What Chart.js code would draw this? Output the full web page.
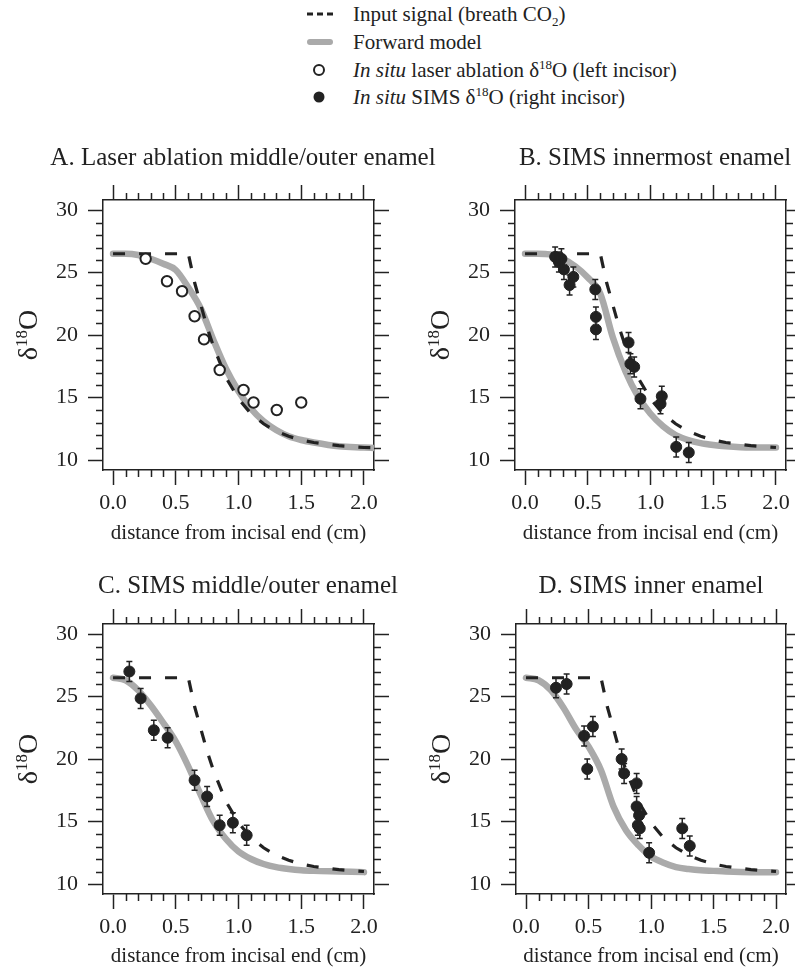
<!DOCTYPE html>
<html>
<head>
<meta charset="utf-8">
<script src="https://cdn.jsdelivr.net/npm/chart.js@4.4.1/dist/chart.umd.min.js"></script>
<style>
  html, body { margin: 0; padding: 0; background: #fff; }
  body { width: 795px; height: 970px; position: relative; overflow: hidden;
         font-family: 'Liberation Serif', 'Times New Roman', serif; color: #222; }
  canvas { position: absolute; }
  .key { position: absolute; left: 305px; width: 480px; height: 28px; line-height: 28px; font-size: 21px; white-space: nowrap; }
  .key svg { position: absolute; left: 0; top: 0; }
  .key span { position: absolute; left: 48px; top: 0; }
  .key sup, .key sub { font-size: 0.62em; line-height: 0; }
</style>
</head>
<body>

<div class="key" style="top:0px">
  <svg width="32" height="28"><line x1="2" y1="14" x2="28" y2="14" stroke="#222" stroke-width="3" stroke-dasharray="6 4"/></svg>
  <span>Input signal (breath CO<sub>2</sub>)</span>
</div>
<div class="key" style="top:28px">
  <svg width="32" height="28"><line x1="5" y1="14" x2="25" y2="14" stroke="#aaa" stroke-width="6" stroke-linecap="round"/></svg>
  <span>Forward model</span>
</div>
<div class="key" style="top:56px">
  <svg width="32" height="28"><circle cx="14" cy="14" r="5" fill="#fff" stroke="#222" stroke-width="2"/></svg>
  <span><i>In situ</i> laser ablation δ<sup>18</sup>O (left incisor)</span>
</div>
<div class="key" style="top:83px">
  <svg width="32" height="28"><circle cx="14" cy="14" r="5.5" fill="#222"/></svg>
  <span><i>In situ</i> SIMS δ<sup>18</sup>O (right incisor)</span>
</div>

<canvas id="panelA"></canvas>
<canvas id="panelB"></canvas>
<canvas id="panelC"></canvas>
<canvas id="panelD"></canvas>

<script>
// axis ticks
const xTicks = [0, 0.5, 1, 1.5, 2];
const yTicks = [10, 15, 20, 25, 30];

// input signal (breath CO2), same curve in every panel
const inputX = [0, 0.6, 0.65, 0.7, 0.75, 0.8, 0.9, 1.0, 1.1, 1.2, 1.3, 1.4, 1.5, 1.6, 1.8, 2.0, 2.1];
const inputY = [26.5, 26.5, 24.2, 22.4, 20.6, 19.1, 16.6, 14.9, 13.7, 12.9, 12.3, 11.9, 11.6, 11.4, 11.15, 11.0, 10.97];

// forward model, one curve per panel
const modelX = [0, 0.1, 0.2, 0.3, 0.4, 0.5, 0.6, 0.7, 0.8, 0.9, 1.0, 1.1, 1.2, 1.3, 1.4, 1.5, 1.6, 1.8, 2.0, 2.1];
const modelA = [26.5, 26.5, 26.4, 26.1, 25.7, 25.2, 23.8, 22.1, 19.6, 17.3, 15.5, 14.1, 13.1, 12.4, 11.9, 11.6, 11.4, 11.1, 11.0, 10.95];
const modelB = [26.5, 26.5, 26.45, 26.1, 25.5, 24.6, 23.3, 19.8, 17.1, 15.1, 13.7, 12.7, 12.0, 11.6, 11.35, 11.2, 11.1, 11.0, 11.0, 11.0];
const modelC = [26.5, 26.3, 25.5, 24.3, 22.9, 21.4, 19.4, 17.1, 15.0, 13.6, 12.6, 12.0, 11.6, 11.35, 11.2, 11.1, 11.05, 11.0, 10.95, 10.95];
const modelD = [26.5, 26.3, 25.5, 24.1, 22.4, 21.0, 19.1, 16.2, 14.3, 13.1, 12.2, 11.7, 11.35, 11.2, 11.1, 11.05, 11.0, 10.95, 10.95, 10.95];

// measured d18O
const laserAX = [0.26, 0.43, 0.55, 0.65, 0.725, 0.85, 1.04, 1.12, 1.305, 1.50];
const laserAY = [26.1, 24.3, 23.5, 21.5, 19.65, 17.2, 15.6, 14.6, 14.0, 14.6];
const simsBX = [0.24, 0.27, 0.29, 0.31, 0.355, 0.385, 0.56, 0.565, 0.565, 0.825, 0.84, 0.87, 0.92, 1.08, 1.09, 1.205, 1.305];
const simsBY = [26.25, 25.85, 26.1, 25.25, 24.0, 24.65, 23.65, 21.45, 20.45, 19.4, 17.7, 17.45, 14.9, 14.5, 15.1, 11.05, 10.6];
const simsCX = [0.13, 0.22, 0.325, 0.435, 0.65, 0.75, 0.85, 0.955, 1.065];
const simsCY = [27.0, 24.85, 22.3, 21.7, 18.3, 17.0, 14.7, 14.9, 13.9];
const simsDX = [0.24, 0.325, 0.465, 0.49, 0.535, 0.765, 0.785, 0.885, 0.885, 0.905, 0.895, 0.91, 0.985, 1.25, 1.31];
const simsDY = [25.7, 26.0, 21.85, 19.2, 22.6, 20.0, 18.85, 18.05, 16.2, 15.5, 14.7, 14.45, 12.5, 14.45, 13.05];
const simsErr = 0.8;

const ink = '#222';
const serif = "'Liberation Serif', 'Times New Roman', serif";

const panels = [
  { id: 'panelA', title: 'A. Laser ablation middle/outer enamel', model: modelA, px: laserAX, py: laserAY, open: true, xEnd: 2.1,
    left: 0, top: 130, width: 486, height: 430, area: { left: 103, top: 70, right: 374, bottom: 340 }, titleTop: 13, xTitlePad: 14 },
  { id: 'panelB', title: 'B. SIMS innermost enamel', model: modelB, px: simsBX, py: simsBY, open: false, xEnd: 2.0,
    left: 405, top: 130, width: 500, height: 430, area: { left: 110, top: 70, right: 381, bottom: 340 }, titleTop: 13, xTitlePad: 14 },
  { id: 'panelC', title: 'C. SIMS middle/outer enamel', model: modelC, px: simsCX, py: simsCY, open: false, xEnd: 2.0,
    left: 0, top: 560, width: 496, height: 410, area: { left: 103, top: 64, right: 374, bottom: 334 }, titleTop: 11, xTitlePad: 1 },
  { id: 'panelD', title: 'D. SIMS inner enamel', model: modelD, px: simsDX, py: simsDY, open: false, xEnd: 2.0,
    left: 405, top: 560, width: 492, height: 410, area: { left: 111, top: 64, right: 381, bottom: 334 }, titleTop: 11, xTitlePad: 1 }
];

function pairs(xs, ys, xEnd) {
  return xs.map((x, i) => ({ x: x, y: ys[i] })).filter(p => p.x <= xEnd + 1e-9);
}

// minor ticks every 0.1 cm and every 1 permil, outside the box on all sides
const minorTicks = {
  id: 'minorTicks',
  afterDraw(chart) {
    const { ctx, chartArea: a, scales } = chart;
    ctx.save();
    ctx.strokeStyle = ink;
    ctx.lineWidth = 1.5;
    ctx.beginPath();
    for (let i = 1; i < 20; i++) {
      if (i % 5 === 0) continue;
      const px = Math.round(scales.x.getPixelForValue(i / 10)) + 0.5;
      ctx.moveTo(px, a.bottom); ctx.lineTo(px, a.bottom + 7);
      ctx.moveTo(px, a.top); ctx.lineTo(px, a.top - 7);
    }
    for (let v = 11; v < 30; v++) {
      if (v % 5 === 0) continue;
      const py = Math.round(scales.y.getPixelForValue(v)) + 0.5;
      ctx.moveTo(a.left, py); ctx.lineTo(a.left - 7, py);
      ctx.moveTo(a.right, py); ctx.lineTo(a.right + 7, py);
    }
    ctx.stroke();
    ctx.restore();
  }
};

// +/- error bars on the SIMS points
const errorBars = {
  id: 'errorBars',
  afterDatasetsDraw(chart, args, opts) {
    if (!opts.err) return;
    const { ctx, scales } = chart;
    ctx.save();
    ctx.strokeStyle = ink;
    ctx.lineWidth = 1.5;
    ctx.beginPath();
    chart.data.datasets[0].data.forEach(p => {
      const px = scales.x.getPixelForValue(p.x);
      const y1 = scales.y.getPixelForValue(p.y + opts.err);
      const y2 = scales.y.getPixelForValue(p.y - opts.err);
      ctx.moveTo(px, y1); ctx.lineTo(px, y2);
      ctx.moveTo(px - 3, y1); ctx.lineTo(px + 3, y1);
      ctx.moveTo(px - 3, y2); ctx.lineTo(px + 3, y2);
    });
    ctx.stroke();
    ctx.restore();
  }
};

// rotated y title with a raised 18
const yTitle = {
  id: 'yTitle',
  afterDraw(chart) {
    const { ctx, chartArea: a } = chart;
    const big = '28px ' + serif, small = '17px ' + serif;
    ctx.save();
    ctx.translate(a.left - 66, (a.top + a.bottom) / 2);
    ctx.rotate(-Math.PI / 2);
    ctx.fillStyle = ink;
    ctx.textBaseline = 'alphabetic';
    ctx.textAlign = 'left';
    ctx.font = big;
    const wd = ctx.measureText('δ').width, wo = ctx.measureText('O').width;
    ctx.font = small;
    const ws = ctx.measureText('18').width;
    let x = -(wd + ws + wo) / 2;
    ctx.font = big; ctx.fillText('δ', x, 0); x += wd;
    ctx.font = small; ctx.fillText('18', x, -10); x += ws;
    ctx.font = big; ctx.fillText('O', x, 0);
    ctx.restore();
  }
};

function axis(position, p, extra) {
  const horizontal = position === 'top' || position === 'bottom';
  return Object.assign({
    type: 'linear',
    position: position,
    min: horizontal ? -0.08 : 9.2,
    max: horizontal ? 2.08 : 30.8,
    afterBuildTicks: s => { s.ticks = (horizontal ? xTicks : yTicks).map(v => ({ value: v })); },
    grid: { drawOnChartArea: false, drawTicks: true, tickLength: 15, tickWidth: 1.5, tickColor: ink },
    border: { display: true, width: 1.5, color: ink },
    ticks: { display: false }
  }, extra);
}

panels.forEach(p => {
  const cv = document.getElementById(p.id);
  cv.width = p.width; cv.height = p.height;
  cv.style.left = p.left + 'px'; cv.style.top = p.top + 'px';
  const a = p.area;

  const datasets = [
    {
      data: pairs(p.px, p.py, 9),
      showLine: false,
      pointRadius: p.open ? 5.2 : 5.5,
      pointBorderWidth: p.open ? 2 : 1,
      pointBackgroundColor: p.open ? '#fff' : ink,
      pointBorderColor: ink,
      order: 1
    },
    {
      data: pairs(inputX, inputY, p.xEnd),
      showLine: true,
      pointRadius: 0,
      borderColor: ink,
      borderWidth: 3.2,
      borderDash: [12, 14],
      tension: 0,
      order: 2
    },
    {
      data: pairs(modelX, p.model, p.xEnd),
      showLine: true,
      pointRadius: 0,
      borderColor: '#aaaaaa',
      borderWidth: 6.5,
      borderCapStyle: 'round',
      cubicInterpolationMode: 'monotone',
      order: 3
    }
  ];

  new Chart(cv, {
    type: 'scatter',
    data: { datasets: datasets },
    plugins: [minorTicks, errorBars, yTitle],
    options: {
      responsive: false,
      animation: false,
      devicePixelRatio: 1,
      layout: { padding: 0 },
      plugins: {
        legend: { display: false },
        tooltip: { enabled: false },
        errorBars: { err: p.open ? 0 : simsErr },
        title: {
          display: true,
          text: p.title,
          color: ink,
          font: { family: serif, size: 25, weight: 'normal', lineHeight: 1.2 },
          padding: { top: p.titleTop, bottom: 0 }
        }
      },
      scales: {
        x: axis('bottom', p, {
          afterFit: s => { s.height = p.height - a.bottom; },
          ticks: { display: true, callback: v => v.toFixed(1), color: ink, padding: 5, maxRotation: 0, autoSkip: false,
                   font: { family: serif, size: 22 } },
          title: { display: true, text: 'distance from incisal end (cm)', color: ink,
                   font: { family: serif, size: 21, lineHeight: 1.2 }, padding: { top: 0, bottom: p.xTitlePad } }
        }),
        x2: axis('top', p, { afterFit: s => { s.height = a.top - p.titleTop - 30; } }),
        y: axis('left', p, {
          afterFit: s => { s.width = a.left; },
          ticks: { display: true, color: ink, padding: 10, autoSkip: false, font: { family: serif, size: 22 } }
        }),
        y2: axis('right', p, { afterFit: s => { s.width = p.width - a.right; } })
      }
    }
  });
});
</script>
</body>
</html>
